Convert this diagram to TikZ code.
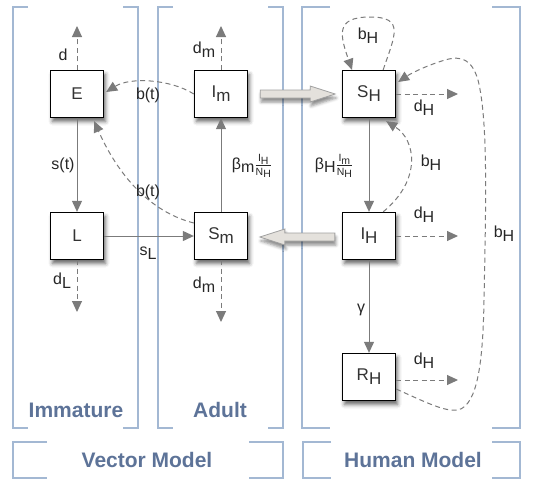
\documentclass[tikz,border=0pt]{standalone}
\usepackage{fontspec}
\setmainfont{Liberation Sans}
\usetikzlibrary{arrows.meta,shadows.blur,calc}
\definecolor{arr}{HTML}{7B7B7B}
\definecolor{brk}{HTML}{A3B8D3}
\definecolor{lbl}{HTML}{5D7398}
\definecolor{hol}{HTML}{E4E1DC}
\definecolor{holb}{HTML}{A0A0A0}
\newcommand\sbs[1]{\raisebox{-0.45ex}{#1}}
\newcommand\frc[2]{$\frac{\hbox{\fontsize{10.5}{11}\selectfont #1}}{\hbox{\fontsize{10.5}{11}\selectfont #2}}$}
\newcommand\bracketbox[5]{%
  \draw[brack] ({#1+#5},#2) -- (#1,#2) -- (#1,#4) -- ({#1+#5},#4);
  \draw[brack] ({#3-#5},#2) -- (#3,#2) -- (#3,#4) -- ({#3-#5},#4);}
\begin{document}
\begin{tikzpicture}[x=1pt,y=-1pt,
  box/.style={draw=black, line width=1.3pt, fill=white, minimum width=53pt, minimum height=47pt, inner sep=0pt,
    font=\fontsize{17}{19}\selectfont, text=black!80,
    blur shadow={shadow xshift=2pt, shadow yshift=-4pt, shadow blur radius=4pt, shadow opacity=60}},
  flow/.style={draw=arr, line width=1pt, -{Triangle[length=11pt,width=10pt]}},
  dflow/.style={flow, dash pattern=on 5pt off 3.5pt},
  lab/.style={font=\fontsize{16}{18}\selectfont, text=black!85, inner sep=0pt},
  brack/.style={draw=brk, line width=1.5pt},
  title/.style={font=\fontsize{21}{24}\selectfont\bfseries, text=lbl, inner sep=0pt},
  hollow/.style={fill=hol, draw=holb, line width=0.8pt,
    blur shadow={shadow xshift=1pt, shadow yshift=-4pt, shadow blur radius=3pt, shadow opacity=45}}
]
\path[use as bounding box] (0,0) rectangle (535,498);

% brackets
\bracketbox{13}{7}{138}{428}{15}
\bracketbox{158}{7}{283}{428}{15}
\bracketbox{302}{7}{520}{428}{28}
\bracketbox{13}{442}{283}{478}{34}
\bracketbox{303}{442}{520}{478}{28}

\node[title] (timm) at (76,410) {Immature};
\node[title] (tadu) at (220,410) {Adult};
\node[title] (tvec) at (147,460) {Vector Model};
\node[title] (thum) at (413,460) {Human Model};

% boxes
\node[box] (E) at (77,94) {E};
\node[box] (Im) at (221,94) {I\sbs{m}};
\node[box] (L) at (77,236) {L};
\node[box] (Sm) at (221,236) {S\sbs{m}};
\node[box] (SH) at (369,94) {S\sbs{H}};
\node[box] (IH) at (369,236) {I\sbs{H}};
\node[box] (RH) at (369,377) {R\sbs{H}};

% free ends
\coordinate (Eup) at (77,26);
\coordinate (Imup) at (221,26);
\coordinate (Ldn) at (77,312);
\coordinate (Smdn) at (221,322);
\coordinate (SHr) at (458,94);
\coordinate (IHr) at (458,236);
\coordinate (RHr) at (458,380);

% solid flows
\draw[flow] (E.south) -- (L.north);
\draw[flow] (L.east) -- (Sm.west);
\draw[flow] (Sm.north) -- (Im.south);
\draw[flow] (SH.south) -- (IH.north);
\draw[flow] (IH.south) -- (RH.north);

% dashed deaths
\draw[dflow] (E.north) -- (Eup);
\draw[dflow] (Im.north) -- (Imup);
\draw[dflow] (L.south) -- (Ldn);
\draw[dflow] (Sm.south) -- (Smdn);
\draw[dflow] (SH.east) -- (SHr);
\draw[dflow] (IH.east) -- (IHr);
\draw[dflow] ($(RH.east)+(0,3)$) -- (RHr);

% births
\draw[dflow] (Im.west) .. controls (170,79) and (130,77) .. ($(E.east)+(2,-2)$);
\draw[dflow] ($(Sm.west)+(0,-13)$) .. controls (150,212) and (118,175) .. ($(E.south east)+(-10,3)$);
\draw[dflow] ($(SH.north east)+(-13,0)$) .. controls (395,35) and (405,17) .. (370,17)
   .. controls (335,17) and (340,35) .. ($(SH.north)+(-17,0)$);
\draw[dflow] ($(IH.north east)+(-13,0)$) .. controls (422,180) and (416,140) .. ($(SH.south east)+(-10,3)$);
\draw[dflow] ($(RH.east)+(0,12)$) .. controls (425,402) and (445,412) .. (458,410)
   .. controls (478,405) and (483,360) .. (484,300)
   .. controls (486,200) and (488,120) .. (478,80)
   .. controls (472,60) and (462,55) .. (445,60)
   .. controls (425,66) and (410,74) .. ($(SH.east)+(2,-12)$);

% hollow transfer arrows
\filldraw[hollow] ($(Im.east)+(12,-4)$) -- ++(50,0) -- ++(0,-4) -- ++(25,8) -- ++(-25,8) -- ++(0,-4) -- ++(-50,0) -- cycle;
\filldraw[hollow] ($(IH.west)+(-7,-3)$) -- ++(-50,0) -- ++(0,-4) -- ++(-25,8) -- ++(25,8) -- ++(0,-4) -- ++(50,0) -- cycle;

% labels
\node[lab] (l1) at (63,55) {d};
\node[lab] (l2) at (204,50) {d\sbs{m}};
\node[lab] (l3) at (148,95) {b(t)};
\node[lab] (l4) at (63,165) {s(t)};
\node[lab] (l5) at (148,192) {b(t)};
\node[lab] (l6) at (252,166) {β\sbs{m}\frc{I\sbs{H}}{N\sbs{H}}};
\node[lab] (l7) at (148,253) {s\sbs{L}};
\node[lab] (l8) at (62,281) {d\sbs{L}};
\node[lab] (l9) at (204,285) {d\sbs{m}};
\node[lab] (l10) at (368,36) {b\sbs{H}};
\node[lab] (l11) at (424,108) {d\sbs{H}};
\node[lab] (l12) at (334,166) {β\sbs{H}\frc{I\sbs{m}}{N\sbs{H}}};
\node[lab] (l13) at (431,163) {b\sbs{H}};
\node[lab] (l14) at (424,215) {d\sbs{H}};
\node[lab] (l15) at (504,234) {b\sbs{H}};
\node[lab] (l16) at (361,310) {γ};
\node[lab] (l17) at (424,361) {d\sbs{H}};
\end{tikzpicture}
\end{document}
